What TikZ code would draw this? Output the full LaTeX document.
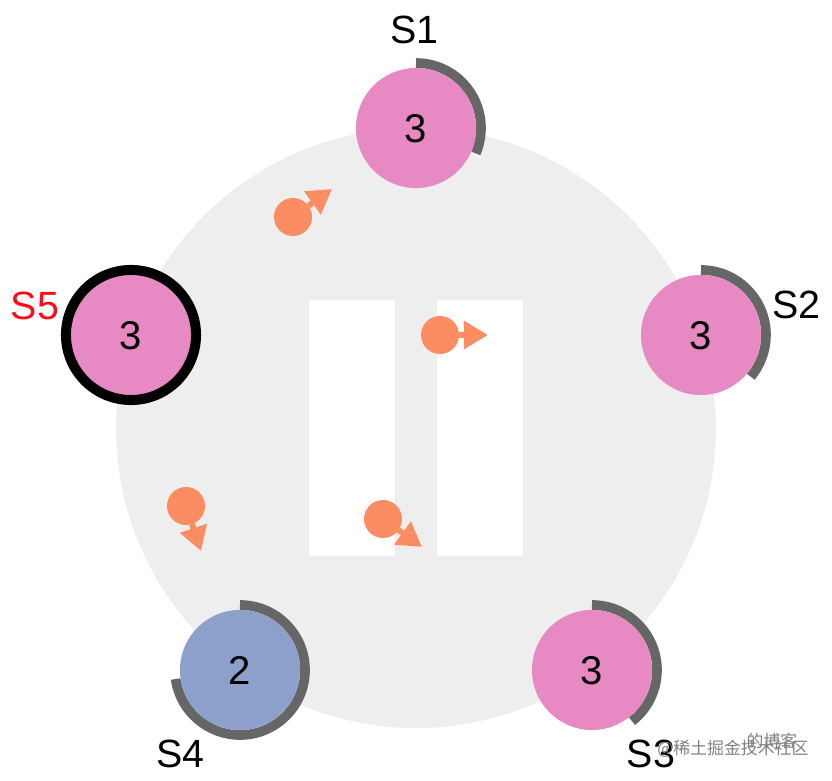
\documentclass[tikz,border=0pt]{standalone}
\usepackage{fontspec}
\setmainfont{Liberation Sans}
\newfontfamily\cjkwm{Noto Sans CJK SC}
\usetikzlibrary{arrows.meta}
\definecolor{ringbg}{HTML}{EEEEEE}
\definecolor{votepink}{HTML}{E78AC3}
\definecolor{voteblue}{HTML}{8DA0CB}
\definecolor{msgorange}{HTML}{FC8D62}
\definecolor{progressgray}{HTML}{666666}
\tikzset{
  x=0.01cm,y=0.01cm,
  server/.style={circle,minimum size=1.2cm,inner sep=0pt,outer sep=0pt,text=black,text height=0.295cm,text depth=0pt,font=\fontsize{11.4pt}{13pt}\selectfont},
  pinkserver/.style={server,fill=votepink},
  blueserver/.style={server,fill=voteblue},
  leader/.style={pinkserver,draw=black,line width=2.845pt,minimum size=1.3cm},
  progress/.style={draw=progressgray,line width=2.75pt},
  namelabel/.style={inner sep=0pt,font=\fontsize{11.2pt}{13pt}\selectfont},
  ball/.style={circle,fill=msgorange,minimum size=0.38cm,inner sep=0pt,outer sep=0pt},
  msg/.style={draw=msgorange,line width=1.7pt,-{Triangle[length=0.24cm,width=0.27cm,fill=msgorange]}},
  wm/.style={inner sep=0pt,text=black!50,font=\cjkwm\fontsize{4.8pt}{6pt}\selectfont}
}
\begin{document}
\begin{tikzpicture}
\useasboundingbox (0,0) rectangle (832,781);
\fill[ringbg] (416,353) circle[radius=300];
\fill[white] (309,225) rectangle (395,481);
\fill[white] (437,225) rectangle (523,481);

\coordinate (c1) at (416,653);
\coordinate (c2) at (701,446);
\coordinate (c3) at (592,111);
\coordinate (c4) at (240,111);
\draw[progress] (c1) ++(90:65) arc[start angle=90,end angle=-23,radius=65];
\draw[progress] (c2) ++(90:65) arc[start angle=90,end angle=-40,radius=65];
\draw[progress] (c3) ++(90:65) arc[start angle=90,end angle=-52,radius=65];
\draw[progress] (c4) ++(90:65) arc[start angle=90,end angle=-172,radius=65];

\node[pinkserver] (s1) at (c1) {3};
\node[pinkserver] (s2) at (c2) {3};
\node[pinkserver] (s3) at (c3) {3};
\node[blueserver] (s4) at (c4) {2};
\node[leader] (s5) at (131,446) {3};

\node[namelabel] (l1) at (414.5,751) {S1};
\node[namelabel] (l2) at (796.5,476) {S2};
\node[namelabel] (l3) at (651,27) {S3};
\node[namelabel] (l4) at (180.5,27) {S4};
\node[namelabel,text={rgb,255:red,252;green,13;blue,27}] (l5) at (35,475) {S5};

\node[ball] (m1) at (293,564) {};
\node[ball] (m2) at (440,446) {};
\node[ball] (m3) at (186,275) {};
\node[ball] (m4) at (383,262) {};
\coordinate (t1) at (332,592);
\coordinate (t2) at (488,446);
\coordinate (t3) at (201,230);
\coordinate (t4) at (422,234);
\draw[msg] (m1) -- (t1);
\draw[msg] (m2) -- (t2);
\draw[msg] (m3) -- (t3);
\draw[msg] (m4) -- (t4);

\node[wm] (w1) at (733,32) {@稀土掘金技术社区};
\node[wm] (w2) at (772,40) {的博客};
\end{tikzpicture}
\end{document}
